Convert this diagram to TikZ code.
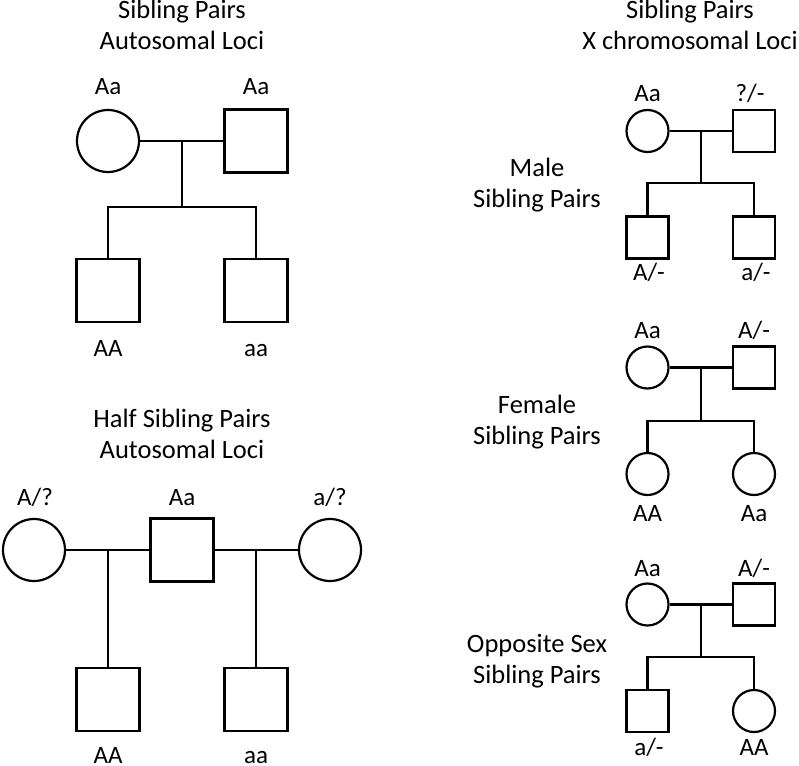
\documentclass[tikz,border=0pt]{standalone}
\usepackage{fontspec}
\setmainfont{Carlito}
\usetikzlibrary{calc}

\tikzset{
        female/.style={draw, line width=2.2pt, circle, minimum size=62pt, inner sep=0pt},
        male/.style={draw, line width=2.2pt, rectangle, minimum size=63pt, inner sep=0pt},
        sfemale/.style={female, minimum size=42pt},
        smale/.style={male, minimum size=42pt},
        gene/.style={anchor=base, inner sep=0pt, font=\fontsize{25}{29}\selectfont},
        heading/.style={anchor=base, inner sep=0pt, align=center, font=\fontsize{26.5}{31}\selectfont},
        line/.style={line width=2.2pt}
}

\begin{document}
\begin{tikzpicture}[x=1pt, y=-1pt]

        \useasboundingbox (0,0) rectangle (799,765);

        % sibling pairs, autosomal
        \node[heading] (sibtitle) at (182,50) {Sibling Pairs\\Autosomal Loci};

        \node[female] (mother) at (108,141) {};
        \node[male] (father) at (256,141) {};
        \node[male] (son1) at (108,290.5) {};
        \node[male] (son2) at (256,290.5) {};

        \node[gene] (motherg) at (108,95) {Aa};
        \node[gene] (fatherg) at (256,95) {Aa};
        \node[gene] (son1g) at (108,356) {AA};
        \node[gene] (son2g) at (256,356) {aa};

        \coordinate (mate) at ($(mother)!0.5!(father)$);
        \coordinate (sibs) at ($(mate)+(0,66)$);

        \draw[line] (mother) -- (father);
        \draw[line] (mate) -- (sibs);
        \draw[line] (son1.north) |- (sibs) -| (son2.north);

        % half sibling pairs, autosomal
        \node[heading] (halftitle) at (182,458) {Half Sibling Pairs\\Autosomal Loci};

        \node[female] (mother1) at (34,550) {};
        \node[male] (dad) at (182,550) {};
        \node[female] (mother2) at (330,550) {};
        \node[male] (half1) at (108,699.5) {};
        \node[male] (half2) at (256,699.5) {};

        \node[gene] (mother1g) at (35,505) {A/?};
        \node[gene] (dadg) at (182,505) {Aa};
        \node[gene] (mother2g) at (330,505) {a/?};
        \node[gene] (half1g) at (108,763) {AA};
        \node[gene] (half2g) at (256,763) {aa};

        \draw[line] (mother1) -- (dad);
        \draw[line] (dad) -- (mother2);
        \draw[line] ($(mother1)!0.5!(dad)$) -- (half1);
        \draw[line] ($(dad)!0.5!(mother2)$) -- (half2);

        % #######################################

        % sibling pairs, X chromosome
        \node[heading] (xtitle) at (690,50) {Sibling Pairs\\X chromosomal Loci};

        \node[heading] (maletitle) at (537,207) {Male\\Sibling Pairs};

        \node[sfemale] (xm1) at (647.5,131) {};
        \node[smale] (xf1) at (754,131) {};
        \node[smale] (xa1) at (647.5,237.5) {};
        \node[smale] (xb1) at (754,237.5) {};

        \node[gene] (xm1g) at (647.5,102) {Aa};
        \node[gene] (xf1g) at (750,102) {?/-};
        \node[gene] (xa1g) at (649,280) {A/-};
        \node[gene] (xb1g) at (756,280) {a/-};

        \coordinate (xmate1) at ($(xm1)!0.5!(xf1)$);
        \coordinate (xsibs1) at ($(xmate1)+(0,52)$);

        \draw[line] (xm1) -- (xf1);
        \draw[line] (xmate1) -- (xsibs1);
        \draw[line] (xa1.north) |- (xsibs1) -| (xb1.north);

        \node[heading] (femaletitle) at (537,444) {Female\\Sibling Pairs};

        \node[sfemale] (xm2) at (647.5,367.5) {};
        \node[smale] (xf2) at (754,367.5) {};
        \node[sfemale] (xa2) at (647.5,474) {};
        \node[sfemale] (xb2) at (754,474) {};

        \node[gene] (xm2g) at (647.5,338) {Aa};
        \node[gene] (xf2g) at (754,338) {A/-};
        \node[gene] (xa2g) at (647.5,521) {AA};
        \node[gene] (xb2g) at (754,521) {Aa};

        \coordinate (xmate2) at ($(xm2)!0.5!(xf2)$);
        \coordinate (xsibs2) at ($(xmate2)+(0,53.5)$);

        \draw[line] (xm2) -- (xf2);
        \draw[line] (xmate2) -- (xsibs2);
        \draw[line] (xa2.north) |- (xsibs2) -| (xb2.north);

        \node[heading] (opptitle) at (537,683) {Opposite Sex\\Sibling Pairs};

        \node[sfemale] (xm3) at (647.5,604.5) {};
        \node[smale] (xf3) at (754,604.5) {};
        \node[smale] (xa3) at (647.5,711) {};
        \node[sfemale] (xb3) at (754,711) {};

        \node[gene] (xm3g) at (647.5,576) {Aa};
        \node[gene] (xf3g) at (754,576) {A/-};
        \node[gene] (xa3g) at (649,755) {a/-};
        \node[gene] (xb3g) at (754,755) {AA};

        \coordinate (xmate3) at ($(xm3)!0.5!(xf3)$);
        \coordinate (xsibs3) at ($(xmate3)+(0,52.5)$);

        \draw[line] (xm3) -- (xf3);
        \draw[line] (xmate3) -- (xsibs3);
        \draw[line] (xa3.north) |- (xsibs3) -| (xb3.north);

\end{tikzpicture}
\end{document}
